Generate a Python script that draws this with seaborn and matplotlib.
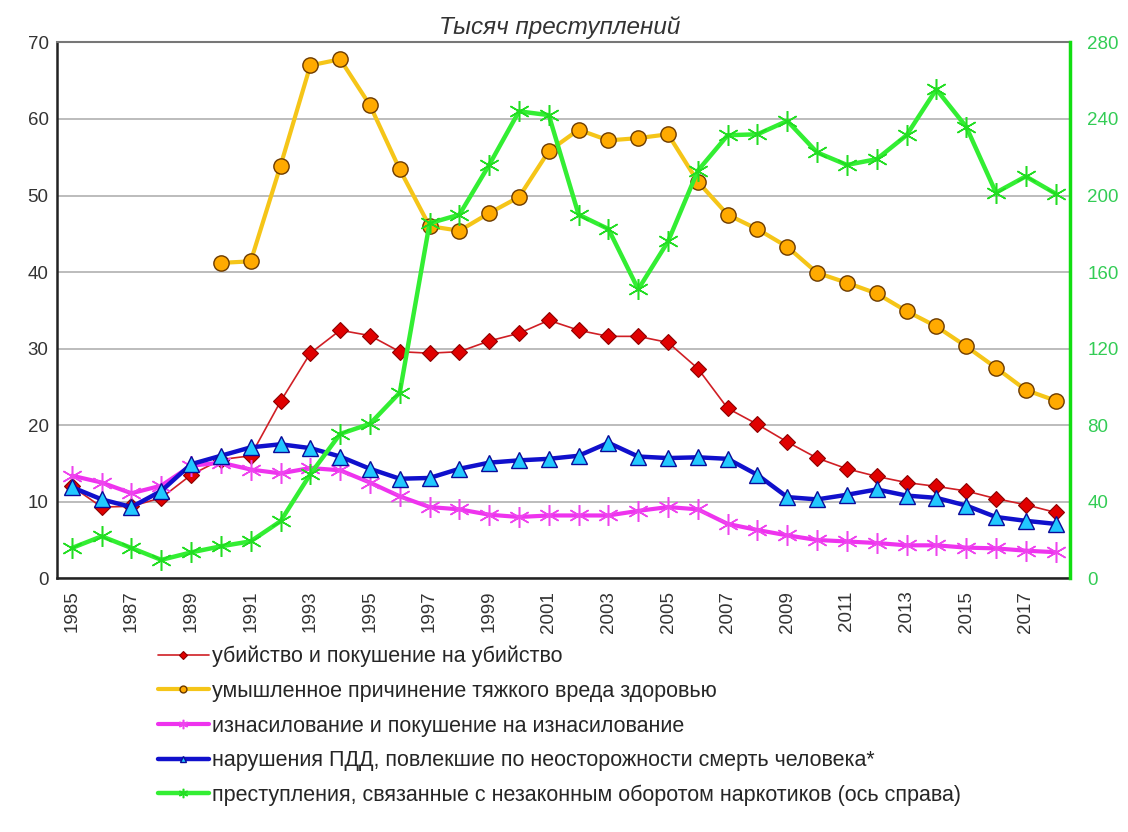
import matplotlib
matplotlib.use("Agg")
import matplotlib.pyplot as plt
import seaborn as sns
import pandas as pd
import numpy as np

years = list(range(1985, 2019))

murder = [12.0, 9.3, 9.4, 10.5, 13.5, 15.5, 16.0, 23.1, 29.4, 32.4, 31.7, 29.6, 29.4, 29.6,
          31.0, 32.0, 33.7, 32.4, 31.6, 31.6, 30.8, 27.4, 22.2, 20.1, 17.8, 15.7, 14.3, 13.3,
          12.5, 12.0, 11.4, 10.4, 9.6, 8.6]

grievous = [np.nan] * 5 + [41.2, 41.4, 53.9, 67.0, 67.8, 61.8, 53.4, 46.0, 45.4, 47.7, 49.8,
            55.8, 58.6, 57.2, 57.5, 58.0, 51.8, 47.5, 45.6, 43.3, 39.9, 38.6, 37.2, 34.9,
            32.9, 30.3, 27.5, 24.6, 23.2]

rape = [13.4, 12.5, 11.1, 12.1, 14.7, 15.1, 14.2, 13.7, 14.4, 14.1, 12.5, 10.7, 9.3, 9.0,
        8.3, 8.0, 8.2, 8.2, 8.2, 8.8, 9.3, 9.0, 7.1, 6.3, 5.6, 5.0, 4.8, 4.6, 4.3, 4.3,
        4.0, 3.9, 3.6, 3.4]

traffic = [11.9, 10.3, 9.3, 11.4, 14.9, 16.0, 17.1, 17.5, 17.0, 15.9, 14.3, 13.0, 13.1, 14.3,
           15.1, 15.4, 15.6, 16.0, 17.7, 15.9, 15.7, 15.8, 15.6, 13.5, 10.6, 10.3, 10.9,
           11.6, 10.8, 10.5, 9.5, 8.0, 7.5, 7.1]

drugs = [15.8, 21.9, 15.8, 9.6, 13.5, 16.7, 19.3, 29.8, 54.4, 75.4, 80.7, 97.0, 185.5, 190.0,
         216.0, 244.0, 242.0, 190.0, 182.5, 151.0, 176.0, 213.0, 231.5, 232.0, 239.0, 222.5,
         216.0, 219.0, 231.5, 255.5, 236.0, 201.5, 210.0, 201.0]

labels = [
    "убийство и покушение на убийство",
    "умышленное причинение тяжкого вреда здоровью",
    "изнасилование и покушение на изнасилование",
    "нарушения ПДД, повлекшие по неосторожности смерть человека*",
    "преступления, связанные с незаконным оборотом наркотиков (ось справа)",
]

title = "Тысяч преступлений"
left_ticks = list(range(0, 71, 10))
right_ticks = list(range(0, 281, 40))
xtick_years = list(range(1985, 2018, 2))

df = pd.DataFrame({"year": years, "murder": murder, "grievous": grievous,
                   "rape": rape, "traffic": traffic, "drugs": drugs})

sns.set_theme(style="white")
plt.rcParams["font.family"] = ["Liberation Sans", "DejaVu Sans"]

fig = plt.figure(figsize=(11.28, 8.32), dpi=100)
ax = fig.add_axes([0.0505, 0.305, 0.8985, 0.644])
ax2 = ax.twinx()

star = (6, 2, 0)

sns.lineplot(data=df, x="year", y="murder", ax=ax, color="#d01f25", lw=1.2,
             marker="D", markersize=8, markerfacecolor="#e00000",
             markeredgecolor="#8b0000", markeredgewidth=0.8, label=labels[0], legend=False)
sns.lineplot(data=df, x="year", y="grievous", ax=ax, color="#f5c518", lw=3,
             marker="o", markersize=11, markerfacecolor="#ffaa00",
             markeredgecolor="#6b3a00", markeredgewidth=1.0, label=labels[1], legend=False)
sns.lineplot(data=df, x="year", y="rape", ax=ax, color="#ee33ee", lw=3,
             marker=star, markersize=15, markeredgecolor="#ee44ee",
             markeredgewidth=1.1, label=labels[2], legend=False)
sns.lineplot(data=df, x="year", y="traffic", ax=ax, color="#1010cc", lw=3.2,
             marker="^", markersize=11, markerfacecolor="#22c8ff",
             markeredgecolor="#0a0a99", markeredgewidth=1.0, label=labels[3], legend=False)
sns.lineplot(data=df, x="year", y="drugs", ax=ax2, color="#33ee33", lw=3.2,
             marker=star, markersize=15, markeredgecolor="#22dd22",
             markeredgewidth=1.1, label=labels[4], legend=False)

ax.set_xlim(1984.5, 2018.5)
ax.set_ylim(0, 70)
ax2.set_ylim(0, 280)
ax.set_yticks(left_ticks)
ax2.set_yticks(right_ticks)
ax.set_xticks(xtick_years)
ax.set_xticklabels([str(y) for y in xtick_years], rotation=90)
ax.set_xlabel("")
ax.set_ylabel("")
ax2.set_ylabel("")

ax.yaxis.grid(True, color="#b0b0b0", lw=1.2)
ax.xaxis.grid(False)
ax2.grid(False)

ax.tick_params(axis="y", length=0, labelsize=13.5, labelcolor="#333333", pad=6)
ax.tick_params(axis="x", length=0, labelsize=13.5, labelcolor="#333333", pad=9)
ax2.tick_params(axis="y", length=0, labelsize=13.5, labelcolor="#33cc55", pad=12)

for s in ["left", "bottom"]:
    ax.spines[s].set_color("#222222")
    ax.spines[s].set_linewidth(1.8)
ax.spines["top"].set_color("#777777")
ax.spines["top"].set_linewidth(1.5)
for s in ["left", "bottom", "top"]:
    ax2.spines[s].set_visible(False)
ax2.spines["right"].set_color("#11dd11")
ax2.spines["right"].set_linewidth(2.5)
ax.spines["right"].set_visible(False)

ax.set_title(title, fontstyle="italic", fontsize=17.5, color="#333333", pad=6, x=0.496)

h1, l1 = ax.get_legend_handles_labels()
h2, l2 = ax2.get_legend_handles_labels()
fig.legend(h1 + h2, l1 + l2, loc="upper left", bbox_to_anchor=(0.132, 0.234),
           frameon=False, fontsize=15.5, labelspacing=0.63, handlelength=2.4,
           handletextpad=0.15, markerscale=0.45, borderaxespad=0)

fig.savefig("out.png", dpi=100, facecolor="white")
